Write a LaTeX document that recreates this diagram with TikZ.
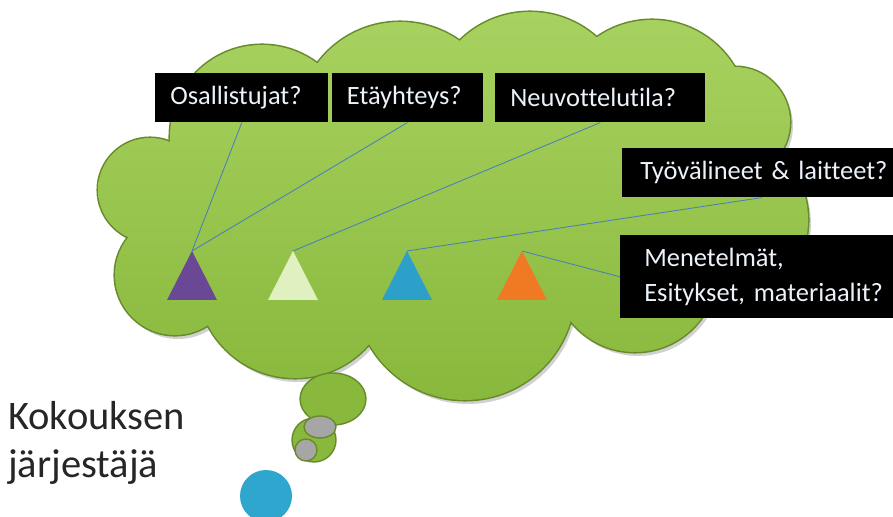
\documentclass[tikz,border=0pt]{standalone}
\usepackage{fontspec}
\setmainfont{Carlito}[Ligatures=NoCommon, WordSpace={0.75,0,0}]
\usepackage{tikz}
\usetikzlibrary{positioning}
\definecolor{cloudtop}{RGB}{168,210,96}
\definecolor{cloudbot}{RGB}{136,184,60}
\definecolor{cloudedge}{RGB}{104,138,44}
\definecolor{linkblue}{RGB}{74,126,187}
\definecolor{triviolet}{RGB}{106,72,150}
\definecolor{tripale}{RGB}{224,240,192}
\definecolor{triblue}{RGB}{44,160,200}
\definecolor{triorange}{RGB}{240,122,36}
\definecolor{dotblue}{RGB}{46,166,206}
\definecolor{boxtext}{RGB}{235,242,250}

\begin{document}
\begin{tikzpicture}[x=0.025cm,y=-0.025cm]
  \tikzset{
    qbox/.style={fill=black, text=boxtext, font=\fontsize{18.8}{24.5}\selectfont, anchor=north west,
      minimum height=1.225cm, inner xsep=0.375cm, inner ysep=0pt, text width=#1, align=left},
    link/.style={linkblue, line width=0.6pt},
    edge/.style={draw=cloudedge, line width=1pt}
  }
  \useasboundingbox (0,0) rectangle (893,517);

  % cloud as a union of circles
  \def\cloudlist{150/190/52, 175/275/60, 262/137/92, 400/125/103, 530/112/100, 652/116/96,
    735/122/55, 715/220/93, 635/270/82, 465/290/110, 295/280/98}
  \begin{scope}[shift={(3,4)}]
    \fill[black!18] foreach \cx/\cy/\r in \cloudlist {(\cx,\cy) circle [radius=\r]};
  \end{scope}
  \draw[cloudedge, line width=2.2pt] foreach \cx/\cy/\r in \cloudlist {(\cx,\cy) circle [radius=\r]};
  \shade[top color=cloudtop, bottom color=cloudbot]
    foreach \cx/\cy/\r in \cloudlist {(\cx,\cy) circle [radius=\r]}
    (440,210) ellipse [x radius=280, y radius=120];

  % question boxes
  \node[qbox=3.575cm] (osal) at (155,73) {Osallistujat?};
  \node[qbox=3.025cm, right=0.075cm of osal.north east, anchor=north west] (eta) {Etäyhteys?};
  \node[qbox=4.5cm] (neuv) at (495,73) {Neuvottelutila?};
  \node[qbox=6.3cm, inner xsep=0.45cm] (tyo) at (622,148) {Työvälineet \& laitteet?};
  \node[qbox=6.3cm, minimum height=2.075cm, inner xsep=0.6cm] (men) at (620,235)
    {Menetelmät,\\Esitykset, materiaalit?};

  % triangles
  \coordinate (a1) at (192,251);
  \coordinate (a2) at (293,251);
  \coordinate (a3) at (407,251);
  \coordinate (a4) at (522,251);

  \draw[link] (a1) -- (osal.south);
  \draw[link] (a1) -- (eta.south);
  \draw[link] (a2) -- (neuv.south);
  \draw[link] (a3) -- (tyo.south -| 762,0);
  \draw[link] (a4) -- (men.west);

  \fill[triviolet] (a1) -- ++(25,49) -- ++(-50,0) -- cycle;
  \fill[tripale] (a2) -- ++(25,49) -- ++(-50,0) -- cycle;
  \fill[triblue] (a3) -- ++(25,49) -- ++(-50,0) -- cycle;
  \fill[triorange] (a4) -- ++(25,49) -- ++(-50,0) -- cycle;

  % thought bubbles
  \draw[edge, fill=cloudbot] (333,399) ellipse [x radius=33, y radius=26];
  \draw[edge, fill=cloudbot] (314,440) circle [radius=22];
  \draw[edge, fill=black!35] (320,427) ellipse [x radius=16, y radius=11];
  \draw[edge, fill=black!35] (306,450) circle [radius=11];
  \fill[dotblue] (266,496) circle [radius=26];

  \node[anchor=west, align=left, font=\fontsize{28.8}{34}\selectfont, text=black!85, inner sep=0pt] (org)
    at (8,443) {Kokouksen\\järjestäjä};
\end{tikzpicture}
\end{document}
